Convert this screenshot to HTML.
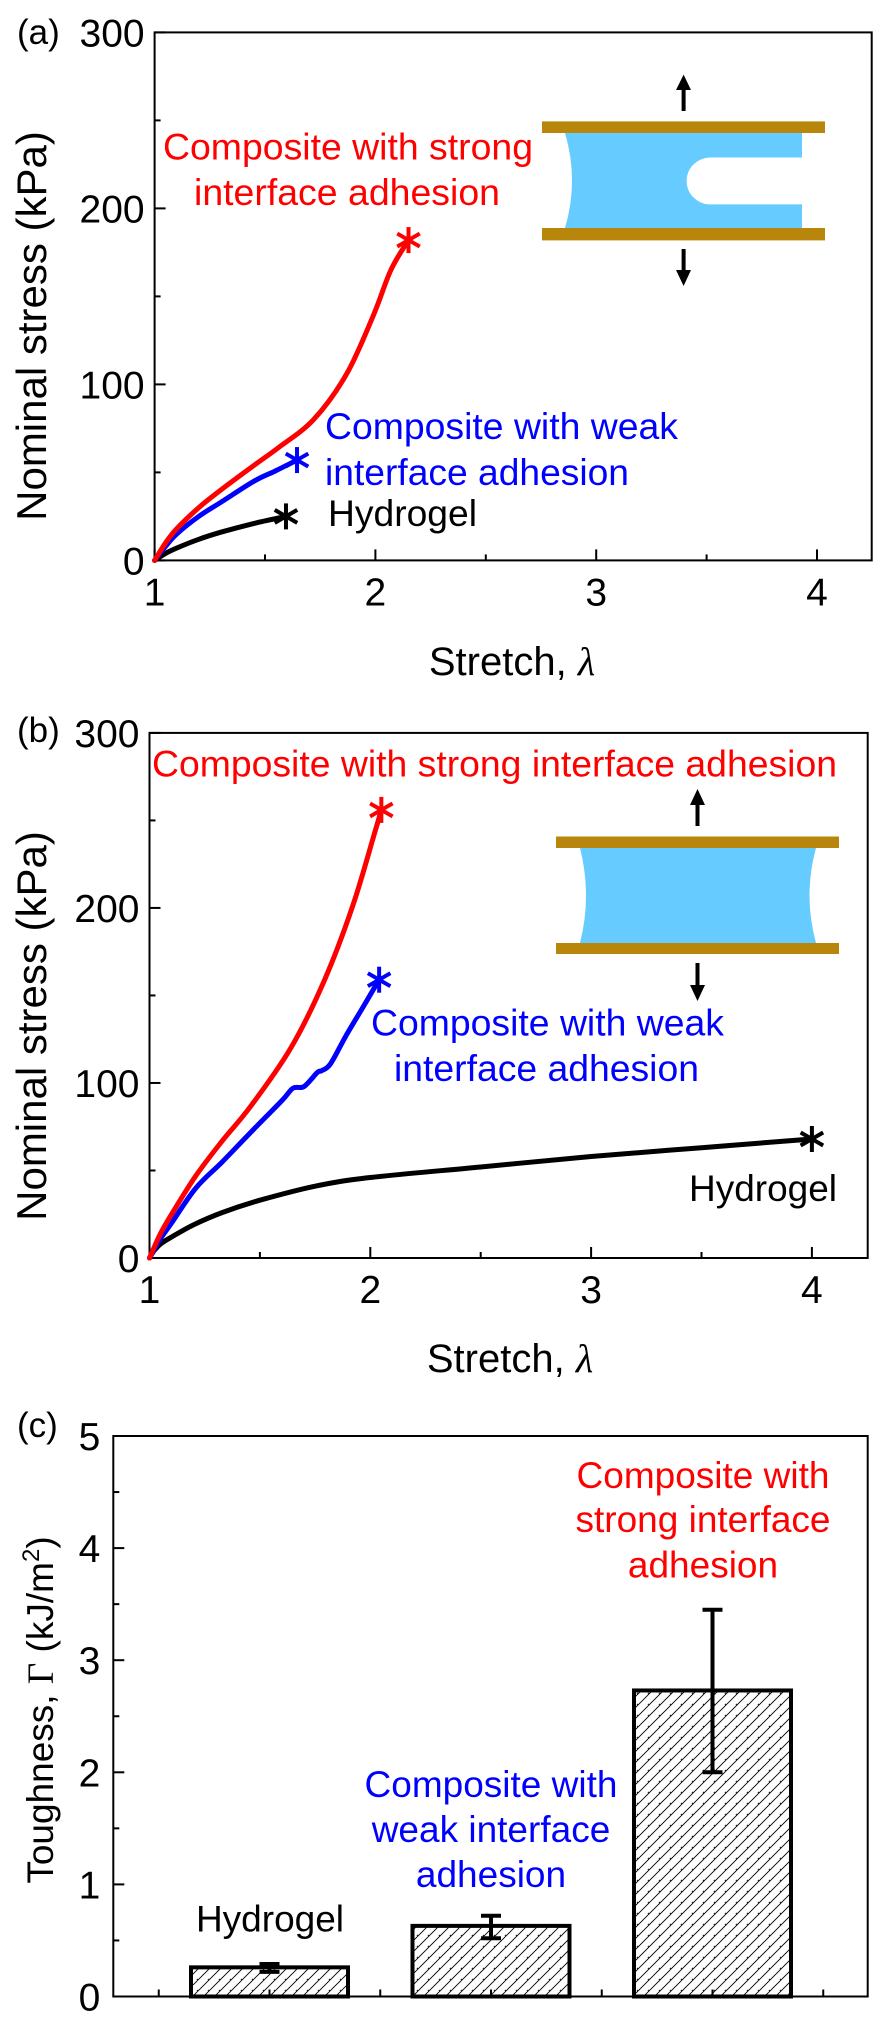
<!DOCTYPE html>
<html><head><meta charset="utf-8"><style>
html,body{margin:0;padding:0;background:#fff;}
svg{display:block;font-family:"Liberation Sans",Arial,sans-serif;}
</style></head><body>
<svg id="fig" width="875" height="2028" viewBox="0 0 875 2028" xmlns="http://www.w3.org/2000/svg">
<defs>
<pattern id="hatch" patternUnits="userSpaceOnUse" width="11" height="11">
<path d="M-1,12 L12,-1 M-6,6 L6,-6 M5,16 L16,5" stroke="#000" stroke-width="0.9"/>
</pattern>
</defs>

<g>
<text x="17" y="44" font-size="35">(a)</text>
<text transform="translate(46,326) rotate(-90)" text-anchor="middle" font-size="42">Nominal stress (kPa)</text>
<text x="512" y="675" text-anchor="middle" font-size="40">Stretch, <tspan font-family="Liberation Serif,serif" font-style="italic">λ</tspan></text>
<g>
<path d="M565,133 H802 V157.5 H709 A24,23.5 0 0 0 709,204.4 H802 V228 H565 Q579,180.5 565,133 Z" fill="#66ccff"/>
<rect x="542" y="121.4" width="283" height="11.6" fill="#b8860b"/>
<rect x="542" y="228" width="283" height="12.4" fill="#b8860b"/>
<line x1="683.6" y1="111" x2="683.6" y2="86" stroke="#000" stroke-width="4"/>
<path d="M676,90 L683.6,74.6 L691,90 Z" fill="#000"/>
<line x1="683.6" y1="249" x2="683.6" y2="274" stroke="#000" stroke-width="4"/>
<path d="M676,270 L683.6,286 L691,270 Z" fill="#000"/>
</g>
<text x="163" y="159.6" font-size="37" fill="#ff0000"><tspan x="163" textLength="370" lengthAdjust="spacingAndGlyphs">Composite with strong</tspan><tspan x="194" y="205" textLength="306" lengthAdjust="spacingAndGlyphs">interface adhesion</tspan></text>
<text x="325" y="439" font-size="37" fill="#0000ff"><tspan x="325" textLength="353" lengthAdjust="spacingAndGlyphs">Composite with weak</tspan><tspan x="325" y="485" textLength="304" lengthAdjust="spacingAndGlyphs">interface adhesion</tspan></text>
<text x="328" y="526" font-size="37" fill="#000" textLength="149" lengthAdjust="spacingAndGlyphs">Hydrogel</text>
</g>

<g>
<text x="17" y="742" font-size="35">(b)</text>
<text transform="translate(46,1026) rotate(-90)" text-anchor="middle" font-size="42">Nominal stress (kPa)</text>
<text x="510" y="1372" text-anchor="middle" font-size="40">Stretch, <tspan font-family="Liberation Serif,serif" font-style="italic">λ</tspan></text>
<g>
<path d="M580,848 H816 Q803,895.5 816,943 H580 Q592,895.5 580,848 Z" fill="#66ccff"/>
<rect x="556" y="836.5" width="283" height="11.5" fill="#b8860b"/>
<rect x="556" y="943" width="283" height="11" fill="#b8860b"/>
<line x1="697.5" y1="826" x2="697.5" y2="801" stroke="#000" stroke-width="4"/>
<path d="M690,805 L697.5,789 L705,805 Z" fill="#000"/>
<line x1="697.5" y1="963" x2="697.5" y2="988" stroke="#000" stroke-width="4"/>
<path d="M690,985 L697.5,1001 L705,985 Z" fill="#000"/>
</g>
<text x="152" y="776.4" font-size="37" fill="#ff0000" textLength="685" lengthAdjust="spacingAndGlyphs">Composite with strong interface adhesion</text>
<text x="371" y="1035.5" font-size="37" fill="#0000ff"><tspan x="371" textLength="353" lengthAdjust="spacingAndGlyphs">Composite with weak</tspan><tspan x="394" y="1081" textLength="305" lengthAdjust="spacingAndGlyphs">interface adhesion</tspan></text>
<text x="689" y="1201" font-size="37" textLength="148" lengthAdjust="spacingAndGlyphs">Hydrogel</text>
</g>

<g>
<text x="17" y="1437" font-size="35">(c)</text>
<text transform="translate(53,1710) rotate(-90)" text-anchor="middle" font-size="37">Toughness, <tspan font-family="Liberation Serif,serif">Γ</tspan> (kJ/m<tspan font-size="24" dy="-14">2</tspan><tspan dy="14">)</tspan></text>
<text font-size="37" fill="#0000ff" text-anchor="middle"><tspan x="491" y="1797">Composite with</tspan><tspan x="491" y="1842">weak interface</tspan><tspan x="491" y="1887">adhesion</tspan></text>
<text font-size="37" fill="#ff0000" text-anchor="middle"><tspan x="703" y="1488">Composite with</tspan><tspan x="703" y="1532">strong interface</tspan><tspan x="703" y="1577.6">adhesion</tspan></text>
<text x="270" y="1931.5" font-size="37" text-anchor="middle">Hydrogel</text>
</g>
<g id="dyn"></g>
</svg>
<script>
// Panel (a) data
const aRedLam = [1,1.05,1.1,1.2,1.3,1.45,1.56,1.72,1.87,1.99,2.07,2.15];
const aRedStress = [0,10,18,30,40,54,64,80,106,139,165,182];
const aBlueLam = [1,1.05,1.1,1.2,1.3,1.45,1.55,1.645];
const aBlueStress = [0,8,15,25,33,45,51,57];
const aBlackLam = [1,1.05,1.1,1.2,1.3,1.45,1.595];
const aBlackStress = [0,4,7,12,16,21,25];
// Panel (b) data
const bRedLam = [1,1.05,1.1,1.21,1.33,1.46,1.64,1.79,1.92,2.02,2.05];
const bRedStress = [0,14,25,47,67,87,120,158,201,243,256];
const bBlueLam = [1,1.05,1.1,1.21,1.33,1.46,1.6,1.65,1.7,1.76,1.78,1.82,1.89,1.97,2.04];
const bBlueStress = [0,11,20,40,55,72,90,97,98,106,107,111,127,144,159];
const bBlackLam = [1,1.02,1.05,1.1,1.2,1.33,1.5,1.75,2.0,2.5,3.0,3.5,4.0];
const bBlackStress = [0,4,8,12,19,26,33,41,46,52,58,63,68];
// Ticks
const xTicks = [1,2,3,4];
const yTicksStress = [0,100,200,300];
// Panel (c) data
const cCategories = ["Hydrogel","Composite with weak interface adhesion","Composite with strong interface adhesion"];
const cValues = [0.26,0.63,2.73];
const cErrLow = [0.22,0.52,2.0];
const cErrHigh = [0.29,0.72,3.45];
const yTicksC = [0,1,2,3,4,5];

const NS="http://www.w3.org/2000/svg";
const root=document.getElementById('dyn');
function mk(tag,attrs,parent){const e=document.createElementNS(NS,tag);for(const k in attrs)e.setAttribute(k,attrs[k]);(parent||root).appendChild(e);return e;}
function smoothPath(P){
  let d='M'+P[0][0].toFixed(1)+','+P[0][1].toFixed(1);
  for(let i=0;i<P.length-1;i++){
    const p0=P[Math.max(i-1,0)],p1=P[i],p2=P[i+1],p3=P[Math.min(i+2,P.length-1)];
    const c1=[p1[0]+(p2[0]-p0[0])/6,p1[1]+(p2[1]-p0[1])/6];
    const c2=[p2[0]-(p3[0]-p1[0])/6,p2[1]-(p3[1]-p1[1])/6];
    d+=' C'+c1[0].toFixed(1)+','+c1[1].toFixed(1)+' '+c2[0].toFixed(1)+','+c2[1].toFixed(1)+' '+p2[0].toFixed(1)+','+p2[1].toFixed(1);
  }
  return d;
}

function linePanel(cfg){
  const g=mk('g',{});
  
  
  const X=v=>cfg.left+(v-1)*cfg.xUnit;
  const Y=v=>cfg.y0-v*cfg.yUnit;
  const box=mk('rect',{x:cfg.left,y:Y(300),width:cfg.right-cfg.left,height:cfg.y0-Y(300),fill:'none',stroke:'#000','stroke-width':2},g);
  
  
  for(let v=0;v<=300;v+=50){
    const major=v%100===0;
    const t=mk('line',{x1:cfg.left,x2:cfg.left+(major?11:6),y1:Y(v),y2:Y(v),stroke:'#000','stroke-width':2},g);
    
    
  }
  yTicksStress.forEach(v=>{
    const t=mk('text',{x:cfg.left-10,y:Y(v)+14,'text-anchor':'end','font-size':39},g);
    t.textContent=v;
    
    
  });
  for(let v=1;v<=4.01;v+=0.5){
    const major=Math.abs(v-Math.round(v))<0.01;
    const t=mk('line',{x1:X(v),x2:X(v),y1:cfg.y0,y2:cfg.y0-(major?11:6),stroke:'#000','stroke-width':2},g);
    
    
  }
  xTicks.forEach(v=>{
    const t=mk('text',{x:X(v),y:cfg.y0+45,'text-anchor':'middle','font-size':39},g);
    t.textContent=v;
    
    
  });
  cfg.series.forEach(s=>{
    const P=s.lam.map((l,i)=>[X(l),Y(s.st[i])]);
    const p=mk('path',{d:smoothPath(P),fill:'none',stroke:s.color,'stroke-width':5,'stroke-linejoin':'round','stroke-linecap':'round'},g);
    
    
    const n=s.lam.length-1, cx=X(s.lam[n]), cy=Y(s.st[n]), r=13;
    const m=mk('g',{stroke:s.color,'stroke-width':4},g);
    
    
    [90,30,150].forEach(a=>{const rad=a*Math.PI/180;mk('line',{x1:cx-r*Math.cos(rad),y1:cy-r*Math.sin(rad),x2:cx+r*Math.cos(rad),y2:cy+r*Math.sin(rad)},m);});
  });
}
linePanel({name:'panel-a-chart',left:154.6,right:871.7,xUnit:220.8,y0:560.4,yUnit:1.76,series:[
  {name:'a-hydrogel-curve',lam:aBlackLam,st:aBlackStress,color:'#000'},
  {name:'a-weak-curve',lam:aBlueLam,st:aBlueStress,color:'#0000ff'},
  {name:'a-strong-curve',lam:aRedLam,st:aRedStress,color:'#ff0000'}]});
linePanel({name:'panel-b-chart',left:149.5,right:867.7,xUnit:220.8,y0:1258,yUnit:1.7503,series:[
  {name:'b-hydrogel-curve',lam:bBlackLam,st:bBlackStress,color:'#000'},
  {name:'b-weak-curve',lam:bBlueLam,st:bBlueStress,color:'#0000ff'},
  {name:'b-strong-curve',lam:bRedLam,st:bRedStress,color:'#ff0000'}]});

(function(){
  const left=113.3,right=867.7,y0=1996.5,yUnit=112.1,x0=269.5,step=221.5,bw=157;
  const Y=v=>y0-v*yUnit;
  const g=mk('g',{});
  
  
  cValues.forEach((v,i)=>{
    const cx=x0+i*step;
    const b=mk('rect',{x:cx-bw/2,y:Y(v),width:bw,height:y0-Y(v),fill:'url(#hatch)',stroke:'#000','stroke-width':4},g);
    
    
    const e=mk('g',{stroke:'#000','stroke-width':4},g);
    
    
    mk('line',{x1:cx,x2:cx,y1:Y(cErrLow[i]),y2:Y(cErrHigh[i])},e);
    mk('line',{x1:cx-10,x2:cx+10,y1:Y(cErrLow[i]),y2:Y(cErrLow[i])},e);
    mk('line',{x1:cx-10,x2:cx+10,y1:Y(cErrHigh[i]),y2:Y(cErrHigh[i])},e);
  });
  const box=mk('rect',{x:left,y:Y(5),width:right-left,height:y0-Y(5),fill:'none',stroke:'#000','stroke-width':2},g);
  
  
  for(let v=0;v<=5;v+=0.5){
    const major=v%1===0;
    const t=mk('line',{x1:left,x2:left+(major?11:6),y1:Y(v),y2:Y(v),stroke:'#000','stroke-width':2},g);
    
    
  }
  yTicksC.forEach(v=>{
    const t=mk('text',{x:left-13,y:Y(v)+14,'text-anchor':'end','font-size':39},g);
    t.textContent=v;
    
    
  });
  for(let k=-1;k<=5;k++){
    const x=x0+k*step/2;
    if(x<=left||x>=right)continue;
    const t=mk('line',{x1:x,x2:x,y1:y0,y2:y0-7,stroke:'#000','stroke-width':2},g);
    
    
  }
})();
</script>
</body></html>
